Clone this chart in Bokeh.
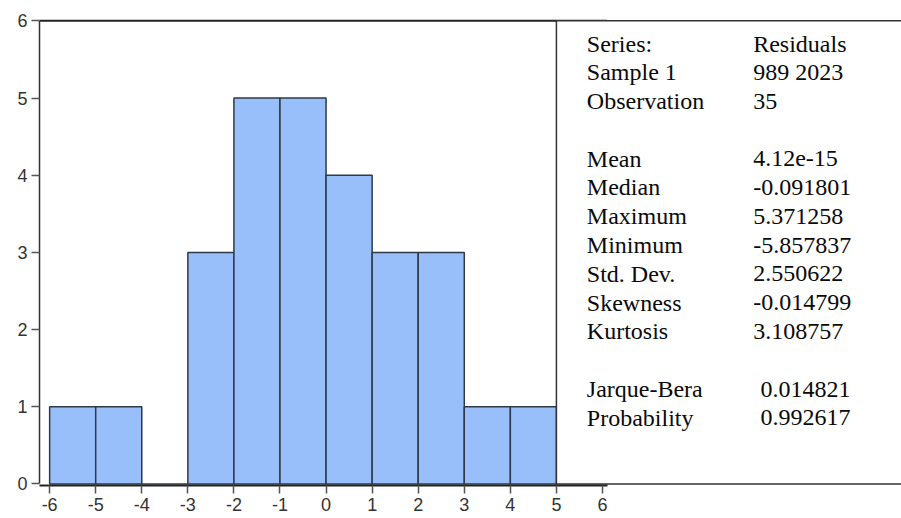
from bokeh.plotting import figure
from bokeh.models import Range1d, FixedTicker, ColumnDataSource, PrintfTickFormatter
from bokeh.core.properties import value
from bokeh.embed import file_html
from bokeh.resources import INLINE

# Histogram data (bin edges and counts)
bin_left = [-6, -5, -4, -3, -2, -1, 0, 1, 2, 3, 4]
bin_right = [-5, -4, -3, -2, -1, 0, 1, 2, 3, 4, 5]
counts = [1, 1, 0, 3, 5, 5, 4, 3, 3, 1, 1]

x_ticks = [-6, -5, -4, -3, -2, -1, 0, 1, 2, 3, 4, 5, 6]
y_ticks = [0, 1, 2, 3, 4, 5, 6]

# Statistics panel
stat_names = ["Series:", "Sample 1", "Observation", "",
              "Mean", "Median", "Maximum", "Minimum", "Std. Dev.",
              "Skewness", "Kurtosis", "",
              "Jarque-Bera", "Probability"]
stat_values = ["Residuals", "989 2023", "35", "",
               "4.12e-15", "-0.091801", "5.371258", "-5.857837", "2.550622",
               "-0.014799", "3.108757", "",
               "0.014821", "0.992617"]

p = figure(width=901, height=518, output_backend="svg", toolbar_location=None,
           x_range=Range1d(-6.22, 12.49), y_range=Range1d(-0.02, 6.03),
           min_border_left=39, min_border_right=0, min_border_top=18,
           min_border_bottom=33)
p.grid.visible = False
p.outline_line_color = None
p.background_fill_color = "white"

# bars
p.quad(left=bin_left, right=bin_right, bottom=0, top=counts,
       fill_color="#99BFFA", line_color="#2E3A48", line_width=1.5)

# top border line of chart
p.segment(x0=[-6.22], y0=[6.0], x1=[6.1], y1=[6.0], line_color="#222222", line_width=2)

# statistics box
p.quad(left=[5.0], right=[20.0], bottom=[0.0], top=[6.0],
       fill_color="white", line_color="#333333", line_width=1.5)

row_step = 0.373
ys = [5.706 - i * row_step for i in range(len(stat_names))]
val_x = [9.27 if not n.startswith(("Jarque", "Probability")) else 9.43 for n in stat_names]
src = ColumnDataSource(dict(x=[5.66] * len(stat_names), y=ys, name=stat_names,
                            vx=val_x, val=stat_values))
p.text(x="x", y="y", text="name", source=src, text_font=value("Liberation Serif"),
       text_font_size="24px", text_baseline="middle", text_align="left", text_color="#0a0a0a")
p.text(x="vx", y="y", text="val", source=src, text_font=value("Liberation Serif"),
       text_font_size="24px", text_baseline="middle", text_align="left", text_color="#0a0a0a")

# axes
xa = p.xaxis[0]
xa.ticker = FixedTicker(ticks=x_ticks)
xa.formatter = PrintfTickFormatter(format="%d")
xa.bounds = (-6.22, 6.1)
xa.axis_line_width = 2
xa.axis_line_color = "#222222"
xa.major_tick_out = 8
xa.major_tick_in = 0
xa.minor_tick_out = 0
xa.minor_tick_in = 0
xa.major_tick_line_color = "#555555"
xa.major_tick_line_width = 1.5
xa.major_label_standoff = 4
xa.major_label_text_font = "Liberation Sans"
xa.major_label_text_font_size = "18px"
xa.major_label_text_color = "#333333"

ya = p.yaxis[0]
ya.ticker = FixedTicker(ticks=y_ticks)
ya.formatter = PrintfTickFormatter(format="%d")
ya.bounds = (0, 6)
ya.axis_line_width = 1.5
ya.axis_line_color = "#333333"
ya.major_tick_out = 8
ya.major_tick_in = 0
ya.minor_tick_out = 0
ya.minor_tick_in = 0
ya.major_tick_line_color = "#555555"
ya.major_tick_line_width = 1.5
ya.major_label_standoff = 4
ya.major_label_text_font = "Liberation Sans"
ya.major_label_text_font_size = "18px"
ya.major_label_text_color = "#333333"

open("out.html", "w").write(file_html(p, INLINE))
